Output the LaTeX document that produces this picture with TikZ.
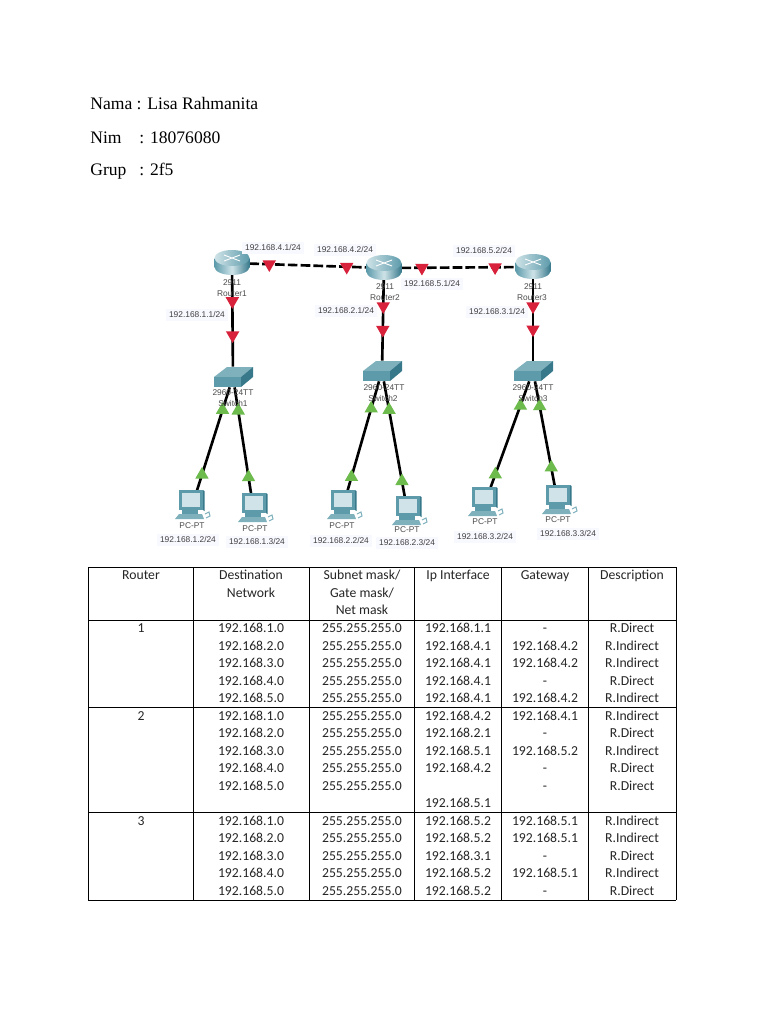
\documentclass[tikz,border=0pt]{standalone}
\usepackage{fontspec}
\setmainfont{Liberation Serif}
\newfontfamily\labelfont{Liberation Sans}
\newfontfamily\tablefont{Carlito}
\usetikzlibrary{shapes.geometric}
\definecolor{redmark}{HTML}{D8213A}
\definecolor{greenmark}{HTML}{6CBB4C}
\definecolor{iconlight}{HTML}{CFE3E8}
\definecolor{iconmid}{HTML}{5D9BAB}
\definecolor{icondark}{HTML}{37798B}
\definecolor{ipback}{HTML}{F8F8FF}
\tikzset{
    routerbox/.style={minimum width=0.68cm,minimum height=0.44cm,inner sep=0},
    switchbox/.style={minimum width=0.78cm,minimum height=0.4cm,inner sep=0},
    pcbox/.style={minimum width=0.5cm,minimum height=0.5cm,inner sep=0},
    wire/.style={line width=1.5pt,black},
    dashwire/.style={wire,dash pattern=on 5.5pt off 1.8pt},
    downmark/.style={shape=regular polygon,regular polygon sides=3,shape border rotate=180,fill=redmark,minimum size=0.31cm,inner sep=0},
    upmark/.style={shape=regular polygon,regular polygon sides=3,fill=greenmark,minimum size=0.31cm,inner sep=0},
    iplabel/.style={font=\labelfont\fontsize{4.76}{5.5}\selectfont,fill=ipback,text=black!75,inner sep=1.5pt},
    devlabel/.style={font=\labelfont\fontsize{4.76}{5.5}\selectfont,text=black!70,inner sep=0},
    headtext/.style={font=\fontsize{10}{12}\selectfont,anchor=base west,inner sep=0},
    celltext/.style={font=\tablefont\fontsize{7.8}{9.5}\selectfont,anchor=base,inner sep=0,text=black!85},
    routericon/.pic={
        \shade[left color=iconmid,right color=icondark,middle color=iconlight] (-17.5,-5) rectangle (17.5,4);
        \shade[left color=iconmid,right color=icondark,middle color=iconlight] (0,4) ellipse [x radius=17.5,y radius=8];
        \shade[left color=iconlight,right color=iconmid] (0,-5) ellipse [x radius=17.5,y radius=8];
        \draw[white,line width=0.5pt] (-8,-8) -- (8,-2) (-8,-2) -- (8,-8);
    },
    switchicon/.pic={
        \fill[iconmid!70!iconlight] (-19,0) -- (-6,-10) -- (20,-10) -- (8,0) -- cycle;
        \fill[iconmid] (-19,0) rectangle (8,10);
        \fill[icondark] (8,0) -- (20,-10) -- (20,0) -- (8,10) -- cycle;
    },
    pcicon/.pic={
        \fill[iconmid] (-11,-13) rectangle (13,7);
        \fill[icondark] (13,-13) -- (14.5,-12) -- (14.5,8) -- (13,7) -- cycle;
        \fill[iconlight] (-8,-10) rectangle (10,4);
        \fill[iconmid] (-8,7) rectangle (8,11);
        \fill[iconmid!70!iconlight] (-15,16) -- (-11,11) -- (12,11) -- (14,16) -- cycle;
        \draw[iconmid!70!iconlight,line width=0.6pt] (15,11) -- (19,9) -- (20,13) -- (16,15);
    }
}
\begin{document}
\begin{tikzpicture}[x=0.02cm,y=-0.02cm]
    \useasboundingbox (0,0) rectangle (768,1024);
    \fill[white] (0,0) rectangle (768,1024);

    % name block
    \node[headtext] (nama) at (90,110) {Nama : Lisa Rahmanita};
    \node[headtext] (nim) at (90,143) {Nim};
    \node[headtext] (nimval) at (139,143) {: 18076080};
    \node[headtext] (grup) at (90,175) {Grup};
    \node[headtext] (grupval) at (139,175) {: 2f5};

    % devices
    \node[routerbox] (r1) at (232,263) {};
    \node[routerbox] (r2) at (384,268) {};
    \node[routerbox] (r3) at (533,267) {};
    \node[switchbox] (s1) at (233,377) {};
    \node[switchbox] (s2) at (382,371) {};
    \node[switchbox] (s3) at (533,371) {};
    \node[pcbox] (pc1) at (193,503) {};
    \node[pcbox] (pc2) at (253,506) {};
    \node[pcbox] (pc3) at (344,503) {};
    \node[pcbox] (pc4) at (407,509) {};
    \node[pcbox] (pc5) at (486,500) {};
    \node[pcbox] (pc6) at (557,498) {};

    % links
    \path [dashwire](r1) edge node[downmark,pos=.17] {} node[downmark,pos=.83] {} (r2);
    \path [dashwire](r2) edge node[downmark,pos=.18] {} node[downmark,pos=.82] {} (r3);
    \path [wire](r1) edge node[downmark,pos=.29] {} node[downmark,pos=.66] {} (s1);
    \path [wire](r2) edge node[downmark,pos=.33] {} node[downmark,pos=.62] {} (s2);
    \path [wire](r3) edge node[downmark,pos=.34] {} node[downmark,pos=.62] {} (s3);
    \path [wire](s1) edge node[upmark,pos=.22] {} node[upmark,pos=.85] {} (pc1);
    \path [wire](s1) edge node[upmark,pos=.22] {} node[upmark,pos=.85] {} (pc2);
    \path [wire](s2) edge node[upmark,pos=.25] {} node[upmark,pos=.88] {} (pc3);
    \path [wire](s2) edge node[upmark,pos=.25] {} node[upmark,pos=.87] {} (pc4);
    \path [wire](s3) edge node[upmark,pos=.23] {} node[upmark,pos=.88] {} (pc5);
    \path [wire](s3) edge node[upmark,pos=.24] {} node[upmark,pos=.83] {} (pc6);

    % icons
    \foreach \dev in {r1,r2,r3} \pic at (\dev) {routericon};
    \foreach \dev in {s1,s2,s3} \pic at (\dev) {switchicon};
    \pic at (190,503) {pcicon};
    \pic at (253,506) {pcicon};
    \pic at (342,503) {pcicon};
    \pic at (407,509) {pcicon};
    \pic at (483,500) {pcicon};
    \pic at (557,498) {pcicon};

    % device labels
    \node[devlabel] (r1type) at (232,283) {2911};
    \node[devlabel] (r1name) at (232,294) {Router1};
    \node[devlabel] (r2type) at (385,287) {2911};
    \node[devlabel] (r2name) at (385,298) {Router2};
    \node[devlabel] (r3type) at (533,287) {2911};
    \node[devlabel] (r3name) at (532,298) {Router3};
    \node[devlabel] (s1type) at (233,393) {2960-24TT};
    \node[devlabel] (s1name) at (233,404) {Switch1};
    \node[devlabel] (s2type) at (384,388) {2960-24TT};
    \node[devlabel] (s2name) at (383,399) {Switch2};
    \node[devlabel] (s3type) at (533,388) {2960-24TT};
    \node[devlabel] (s3name) at (533,399) {Switch3};
    \node[devlabel] (pc1type) at (192,526) {PC-PT};
    \node[devlabel] (pc2type) at (255,529) {PC-PT};
    \node[devlabel] (pc3type) at (342,526) {PC-PT};
    \node[devlabel] (pc4type) at (407,530) {PC-PT};
    \node[devlabel] (pc5type) at (485,522) {PC-PT};
    \node[devlabel] (pc6type) at (558,520) {PC-PT};

    % addresses
    \node[iplabel] (ip41) at (273,248) {192.168.4.1/24};
    \node[iplabel] (ip42) at (345,250) {192.168.4.2/24};
    \node[iplabel] (ip52) at (484,251) {192.168.5.2/24};
    \node[iplabel] (ip51) at (432,284) {192.168.5.1/24};
    \node[iplabel] (ip11) at (197,315) {192.168.1.1/24};
    \node[iplabel] (ip21) at (346,311) {192.168.2.1/24};
    \node[iplabel] (ip31) at (497,312) {192.168.3.1/24};
    \node[iplabel] (ip12) at (188,540) {192.168.1.2/24};
    \node[iplabel] (ip13) at (257,542) {192.168.1.3/24};
    \node[iplabel] (ip22) at (341,541) {192.168.2.2/24};
    \node[iplabel] (ip23) at (407,543) {192.168.2.3/24};
    \node[iplabel] (ip32) at (485,537) {192.168.3.2/24};
    \node[iplabel] (ip33) at (568,534) {192.168.3.3/24};

    % table rules
    \foreach \x in {88,193,309,414,501,588,676} \draw[black,line width=0.4pt] (\x,567) -- (\x,900);
    \foreach \y in {567,620,707,812,900} \draw[black,line width=0.4pt] (88,\y) -- (676,\y);

    % table head
    \node[celltext] (h1) at (141,579.5) {Router};
    \node[celltext] (h2a) at (251,579.5) {Destination};
    \node[celltext] (h2b) at (251,597.5) {Network};
    \node[celltext] (h3a) at (362,579.5) {Subnet mask/};
    \node[celltext] (h3b) at (362,597.5) {Gate mask/};
    \node[celltext] (h3c) at (362,614.5) {Net mask};
    \node[celltext] (h4) at (458,579.5) {Ip Interface};
    \node[celltext] (h5) at (545,579.5) {Gateway};
    \node[celltext] (h6) at (632,579.5) {Description};

    % table rows
    \node[celltext] (rt1) at (141,632.5) {1};
    \node[celltext] (rt2) at (141,720.5) {2};
    \node[celltext] (rt3) at (141,825.5) {3};
    \foreach \y/\dest/\ipif/\gw/\desc in {
        632.5/1.0/1.1/-/R.Direct,
        650.5/2.0/4.1/192.168.4.2/R.Indirect,
        667.5/3.0/4.1/192.168.4.2/R.Indirect,
        685.5/4.0/4.1/-/R.Direct,
        702.5/5.0/4.1/192.168.4.2/R.Indirect,
        720.5/1.0/4.2/192.168.4.1/R.Indirect,
        737.5/2.0/2.1/-/R.Direct,
        755.5/3.0/5.1/192.168.5.2/R.Indirect,
        772.5/4.0/4.2/-/R.Direct,
        825.5/1.0/5.2/192.168.5.1/R.Indirect,
        842.5/2.0/5.2/192.168.5.1/R.Indirect,
        860.5/3.0/3.1/-/R.Direct,
        877.5/4.0/5.2/192.168.5.1/R.Indirect,
        895.5/5.0/5.2/-/R.Direct} {
        \node[celltext] (dest\y) at (251,\y) {192.168.\dest};
        \node[celltext] (mask\y) at (362,\y) {255.255.255.0};
        \node[celltext] (ipif\y) at (458,\y) {192.168.\ipif};
        \node[celltext] (gw\y) at (545,\y) {\gw};
        \node[celltext] (desc\y) at (632,\y) {\desc};
    }
    \node[celltext] (dest791) at (251,790.5) {192.168.5.0};
    \node[celltext] (mask791) at (362,790.5) {255.255.255.0};
    \node[celltext] (gw791) at (545,790.5) {-};
    \node[celltext] (desc791) at (632,790.5) {R.Direct};
    \node[celltext] (ipif808) at (458,807.5) {192.168.5.1};
\end{tikzpicture}
\end{document}
